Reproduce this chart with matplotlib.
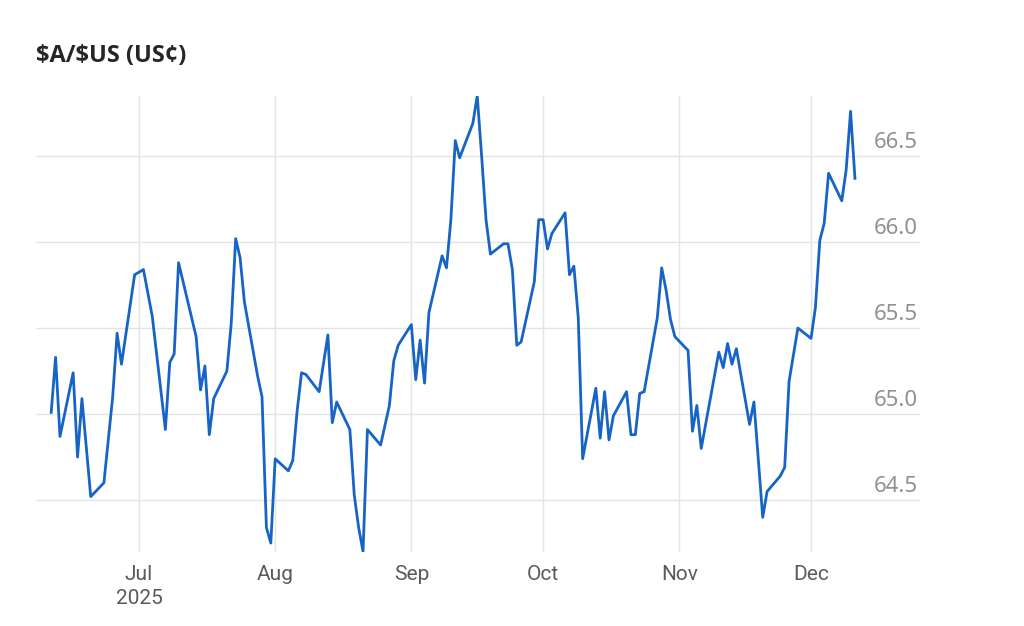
import numpy as np
import pandas as pd
import matplotlib
matplotlib.use("Agg")
import matplotlib.pyplot as plt
import matplotlib.transforms as mtransforms

# $A/$US daily close (vertices of the line)
dates = [
    "2025-06-11", "2025-06-12", "2025-06-13", "2025-06-16", "2025-06-17", "2025-06-18",
    "2025-06-20", "2025-06-23", "2025-06-25", "2025-06-26", "2025-06-27", "2025-06-30",
    "2025-07-02", "2025-07-04", "2025-07-07", "2025-07-08", "2025-07-09", "2025-07-10",
    "2025-07-14", "2025-07-15", "2025-07-16", "2025-07-17", "2025-07-18", "2025-07-21",
    "2025-07-22", "2025-07-23", "2025-07-24", "2025-07-25", "2025-07-28", "2025-07-29",
    "2025-07-30", "2025-07-31", "2025-08-01", "2025-08-04", "2025-08-05", "2025-08-06",
    "2025-08-07", "2025-08-08", "2025-08-11", "2025-08-13", "2025-08-14", "2025-08-15",
    "2025-08-18", "2025-08-19", "2025-08-20", "2025-08-21", "2025-08-22", "2025-08-25",
    "2025-08-27", "2025-08-28", "2025-08-29", "2025-09-01", "2025-09-02", "2025-09-03",
    "2025-09-04", "2025-09-05", "2025-09-08", "2025-09-09", "2025-09-10", "2025-09-11",
    "2025-09-12", "2025-09-15", "2025-09-16", "2025-09-17", "2025-09-18", "2025-09-19",
    "2025-09-22", "2025-09-23", "2025-09-24", "2025-09-25", "2025-09-26", "2025-09-29",
    "2025-09-30", "2025-10-01", "2025-10-02", "2025-10-03", "2025-10-06", "2025-10-07",
    "2025-10-08", "2025-10-09", "2025-10-10", "2025-10-13", "2025-10-14", "2025-10-15",
    "2025-10-16", "2025-10-17", "2025-10-20", "2025-10-21", "2025-10-22", "2025-10-23",
    "2025-10-24", "2025-10-27", "2025-10-28", "2025-10-29", "2025-10-30", "2025-10-31",
    "2025-11-03", "2025-11-04", "2025-11-05", "2025-11-06", "2025-11-10", "2025-11-11",
    "2025-11-12", "2025-11-13", "2025-11-14", "2025-11-17", "2025-11-18", "2025-11-20",
    "2025-11-21", "2025-11-24", "2025-11-25", "2025-11-26", "2025-11-28", "2025-12-01",
    "2025-12-02", "2025-12-03", "2025-12-04", "2025-12-05", "2025-12-08", "2025-12-09",
    "2025-12-10", "2025-12-11",
]
rate = [
    65.01, 65.33, 64.87, 65.24, 64.75, 65.09,
    64.52, 64.60, 65.10, 65.47, 65.29, 65.81,
    65.84, 65.57, 64.91, 65.30, 65.35, 65.88,
    65.45, 65.14, 65.28, 64.88, 65.09, 65.25,
    65.53, 66.02, 65.91, 65.65, 65.22, 65.10,
    64.34, 64.25, 64.74, 64.67, 64.73, 65.02,
    65.24, 65.23, 65.13, 65.46, 64.95, 65.07,
    64.91, 64.53, 64.34, 64.20, 64.91, 64.82,
    65.05, 65.31, 65.40, 65.52, 65.20, 65.43,
    65.18, 65.59, 65.92, 65.85, 66.13, 66.59,
    66.49, 66.69, 66.85, 66.50, 66.13, 65.93,
    65.99, 65.99, 65.84, 65.40, 65.42, 65.77,
    66.13, 66.13, 65.96, 66.05, 66.17, 65.81,
    65.86, 65.56, 64.74, 65.15, 64.86, 65.13,
    64.85, 64.99, 65.13, 64.88, 64.88, 65.12,
    65.13, 65.56, 65.85, 65.72, 65.55, 65.45,
    65.37, 64.90, 65.05, 64.80, 65.36, 65.27,
    65.41, 65.29, 65.38, 64.94, 65.07, 64.40,
    64.55, 64.64, 64.69, 65.19, 65.50, 65.44,
    65.62, 66.01, 66.11, 66.40, 66.24, 66.42,
    66.76, 66.37,
]
y_ticks = [64.5, 65.0, 65.5, 66.0, 66.5]
month_starts = ["2025-07-01", "2025-08-01", "2025-09-01", "2025-10-01", "2025-11-01", "2025-12-01"]
month_labels = ["Jul\n2025", "Aug", "Sep", "Oct", "Nov", "Dec"]

x = pd.to_datetime(dates)

fig = plt.figure(figsize=(10.24, 6.26), dpi=100)
ax = fig.add_axes([0.0352, 0.1182, 0.8632, 0.7284])

ax.plot(x, rate, color="#1764c6", linewidth=2.0)

jul1 = pd.Timestamp("2025-07-01")
ax.set_xlim(jul1 - pd.Timedelta(days=23.45), jul1 + pd.Timedelta(days=177.8))
ax.set_ylim(64.198, 66.849)

ax.set_xticks(pd.to_datetime(month_starts))
ax.set_xticklabels(month_labels, family=["Roboto", "DejaVu Sans"],
                   fontsize=15, color="#5a5a5a", linespacing=1.35)
ax.set_yticks(y_ticks)
ax.set_yticklabels([])
ax.tick_params(axis="both", length=0)
ax.tick_params(axis="x", pad=9)

ax.grid(True, color="#e4e4e4", linewidth=1.0)
ax.set_axisbelow(True)
for s in ax.spines.values():
    s.set_visible(False)

# y labels sit on the right, just above their gridline
off = mtransforms.ScaledTranslation(-2 / 100, 3 / 100, fig.dpi_scale_trans)
trans = mtransforms.blended_transform_factory(ax.transAxes, ax.transData) + off
for v in y_ticks:
    ax.text(1.0, v, f"{v:.1f}", transform=trans, ha="right", va="bottom",
            fontsize=16, color="#909090", family=["Noto Sans", "DejaVu Sans"])

fig.text(36 / 1024, 1 - 56 / 626, r"\$A/\$US (US¢)", ha="left", va="center",
         fontsize=17, fontweight="bold", color="#262626",
         family=["Open Sans", "Lato", "DejaVu Sans"])

fig.savefig("out.png", dpi=100)
